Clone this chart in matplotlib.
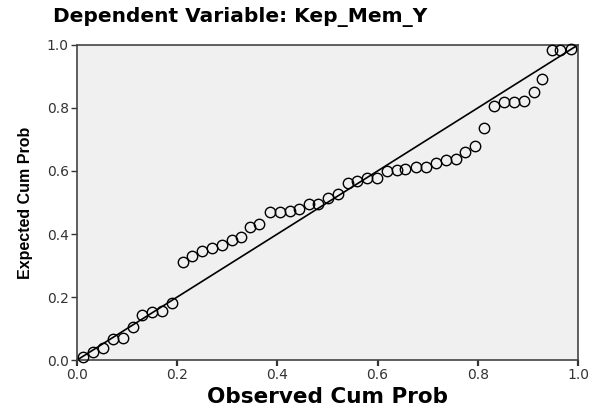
import matplotlib
matplotlib.use("Agg")
import matplotlib.pyplot as plt

# Observed vs expected cumulative probability
observed = [0.012, 0.032, 0.052, 0.072, 0.092, 0.112, 0.130, 0.150, 0.170, 0.190,
            0.212, 0.230, 0.250, 0.269, 0.289, 0.309, 0.327, 0.345, 0.363, 0.385,
            0.405, 0.425, 0.443, 0.463, 0.481, 0.501, 0.521, 0.541, 0.559, 0.579,
            0.599, 0.619, 0.639, 0.655, 0.677, 0.697, 0.717, 0.737, 0.756, 0.774,
            0.794, 0.812, 0.832, 0.852, 0.872, 0.892, 0.912, 0.928, 0.948, 0.964,
            0.986]
expected = [0.010, 0.025, 0.038, 0.067, 0.070, 0.105, 0.143, 0.152, 0.156, 0.181,
            0.311, 0.330, 0.346, 0.356, 0.365, 0.381, 0.390, 0.422, 0.432, 0.470,
            0.470, 0.473, 0.479, 0.495, 0.495, 0.514, 0.527, 0.562, 0.568, 0.578,
            0.578, 0.600, 0.603, 0.606, 0.613, 0.613, 0.625, 0.635, 0.638, 0.660,
            0.679, 0.737, 0.806, 0.819, 0.819, 0.822, 0.851, 0.892, 0.984, 0.984,
            0.987]
ticks = [0.0, 0.2, 0.4, 0.6, 0.8, 1.0]
tick_labels = ["0.0", "0.2", "0.4", "0.6", "0.8", "1.0"]

# wide font for the horizontal texts (the reference is stretched sideways)
plt.rcParams['font.family'] = ['DejaVu Sans']

fig = plt.figure(figsize=(5.94, 4.12), dpi=100)
ax = fig.add_axes([0.1296, 0.126, 0.8434, 0.765])
ax.set_facecolor("#f0f0f0")

# Diagonal reference line
ax.plot([0, 1], [0, 1], color="black", lw=1.2, zorder=2)
# Points
ax.plot(observed, expected, linestyle="none", marker="o", markersize=7.5,
        markerfacecolor="none", markeredgecolor="black", markeredgewidth=1.0,
        zorder=3, clip_on=False)

ax.set_xlim(0, 1)
ax.set_ylim(0, 1)
ax.set_xticks(ticks)
ax.set_xticklabels(tick_labels)
ax.set_yticks(ticks)
ax.set_yticklabels(tick_labels)
ax.tick_params(direction="out", length=4, width=1, labelsize=10,
               colors="#333333", pad=2)
ax.tick_params(axis="x", width=1.6)

for s in ax.spines.values():
    s.set_color("#444444")
    s.set_linewidth(1.2)

ax.set_xlabel("Observed Cum Prob", fontsize=15.5, fontweight="bold", labelpad=3)
ax.set_ylabel("Expected Cum Prob", fontsize=11.5, fontweight="bold", labelpad=10,
              family=["Liberation Sans", "DejaVu Sans"])
fig.text(0.09, 0.958, "Dependent Variable: Kep_Mem_Y", fontsize=14.5,
         fontweight="bold", ha="left", va="center")

fig.savefig("out.png", dpi=100)
